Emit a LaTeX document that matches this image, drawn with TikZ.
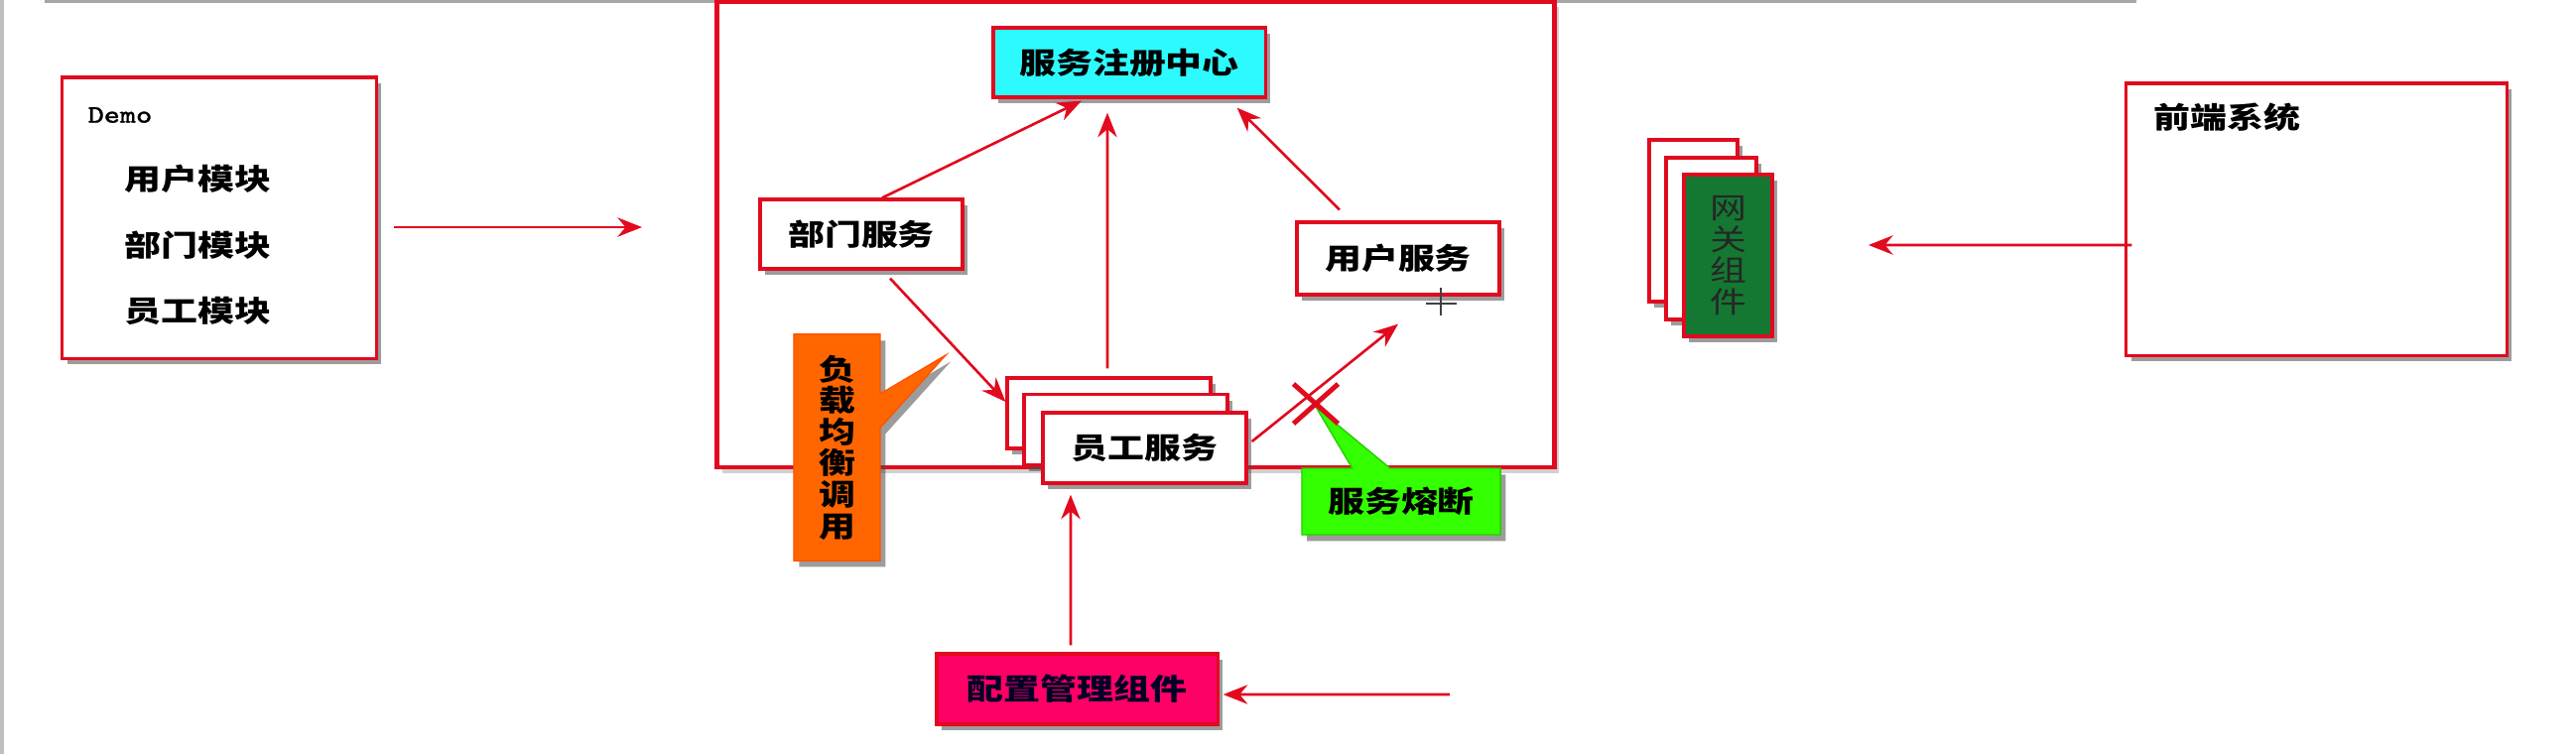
\documentclass[tikz,border=0pt]{standalone}
\usepackage{fontspec}
\usepackage{tikz}
\usetikzlibrary{arrows.meta,shadows,shapes.callouts,shapes.misc}
\newfontfamily\cjk[FakeStretch=1.25]{Noto Sans CJK SC}
\newfontfamily\demofont[FakeStretch=1.2,FakeBold=1.2]{Latin Modern Mono}
\newcommand\boxfont{\cjk\bfseries\fontsize{8.4pt}{9pt}\selectfont}
\definecolor{edgered}{RGB}{225,10,30}
\definecolor{regcyan}{RGB}{45,250,255}
\definecolor{lborange}{RGB}{255,102,0}
\definecolor{fusegreen}{RGB}{51,255,0}
\definecolor{cfgmagenta}{RGB}{255,0,102}
\definecolor{gwgreen}{RGB}{20,120,50}

\begin{document}
\begin{tikzpicture}[x=0.01cm,y=-0.01cm,
    shade/.style={drop shadow={shadow xshift=1.5pt,shadow yshift=-1.8pt,opacity=0.55,fill=black!70}},
    box/.style={draw=edgered,line width=0.9pt,fill=white,inner sep=0pt,font=\boxfont,shade},
    link/.style={draw=edgered,line width=0.75pt,-{Stealth[length=7pt,width=5.5pt]}}]
    \useasboundingbox (0,0) rectangle (2596,760);
    \fill[white] (0,0) rectangle (2596,760);
    % screen edges
    \fill[black!25] (0,0) rectangle (4,760);
    \draw[black!35,line width=1pt] (45,1) -- (2153,1);

    % Demo
    \node[box,minimum width=3.16cm,minimum height=2.83cm] (demo) at (221,219.5) {};
    \node[anchor=west,inner sep=0pt,font=\demofont\fontsize{7.2pt}{8pt}\selectfont] (demotitle) at (88,116) {Demo};
    \node[anchor=west,inner sep=0pt,font=\boxfont] (usermod) at (125,180) {用户模块};
    \node[anchor=west,inner sep=0pt,font=\boxfont] (deptmod) at (125,247) {部门模块};
    \node[anchor=west,inner sep=0pt,font=\boxfont] (empmod) at (125,313) {员工模块};
    \coordinate (demoout) at (397,229);
    \coordinate (framein) at (647,229);

    % Services
    \node[draw=edgered,line width=1.3pt,fill=white,inner sep=0pt,minimum width=8.43cm,minimum height=4.69cm,
      drop shadow={shadow xshift=1.4pt,shadow yshift=-1.6pt,opacity=0.3,fill=black!60}] (frame) at (1144.5,236.5) {};
    \node[box,fill=regcyan,minimum width=2.74cm,minimum height=0.70cm] (reg) at (1138,63) {服务注册中心};
    \node[box,minimum width=2.04cm,minimum height=0.70cm] (dept) at (868,236) {部门服务};
    \node[box,minimum width=2.04cm,minimum height=0.73cm] (user) at (1409,260.5) {用户服务};
    \node[box,minimum width=2.05cm,minimum height=0.71cm] (empback) at (1117.5,416.5) {};
    \node[box,minimum width=2.05cm,minimum height=0.71cm] (empmid) at (1134.5,433) {};
    \node[box,minimum width=2.05cm,minimum height=0.71cm] (emp) at (1153.5,451.5) {员工服务};
    \node[box,draw=lborange!80!red,line width=0.4pt,fill=lborange,rectangle callout,
      callout absolute pointer={(953,358)},callout pointer width=0.34cm,
      minimum width=0.87cm,minimum height=2.28cm,align=center] (lb) at (843.5,451)
      {负\\载\\均\\衡\\调\\用};
    \node[box,draw=fusegreen!80!black,line width=0.4pt,fill=fusegreen,rectangle callout,
      callout absolute pointer={(1326,410)},callout pointer width=0.38cm,
      minimum width=2.00cm,minimum height=0.67cm] (fuse) at (1412,505.5) {服务熔断};
    \node[cross out,draw=edgered,line width=1.4pt,minimum width=0.40cm,minimum height=0.35cm,inner sep=0pt] (cut) at (1326,407) {};
    \draw[black!75,line width=0.3pt] (1452,290) -- (1452,318) (1437,306) -- (1468,306);
    \node[box,fill=cfgmagenta,font=\boxfont\color{black!85!blue},minimum width=2.83cm,minimum height=0.71cm] (cfg) at (1085.5,694.5) {配置管理组件};
    \coordinate (cfgin) at (1461,700);

    % Gateway
    \node[box,minimum width=0.89cm,minimum height=1.63cm] (gwback) at (1706.5,222.5) {};
    \node[box,minimum width=0.91cm,minimum height=1.63cm] (gwmid) at (1724.5,240.5) {};
    \node[box,fill=gwgreen,font=\cjk\fontsize{8.4pt}{9pt}\selectfont\color{black!85},align=center,minimum width=0.89cm,minimum height=1.63cm] (gw) at (1741.5,257.5)
      {网\\关\\组\\件};
    \coordinate (gwin) at (1883,247);

    % Front end
    \node[box,minimum width=3.83cm,minimum height=2.74cm] (front) at (2334.5,221) {};
    \node[anchor=west,inner sep=0pt,font=\boxfont] (fronttitle) at (2170,118) {前端系统};

    % Arrows
    \draw[link] (demoout) -- (framein);
    \draw[link] ([xshift=0.21cm]dept.north) -- ([xshift=-0.48cm,yshift=-0.02cm]reg.south);
    \draw[link] ([xshift=-0.015cm,yshift=0.08cm]empback.north) -- ([xshift=-0.22cm,yshift=-0.14cm]reg.south);
    \draw[link] ([xshift=-0.59cm,yshift=0.11cm]user.north) -- ([xshift=-0.30cm,yshift=-0.09cm]reg.south east);
    \draw[link] ([xshift=0.29cm,yshift=-0.08cm]dept.south) -- ([yshift=0.115cm]empback.west);
    \draw[link] ([xshift=0.04cm,yshift=0.065cm]emp.east) -- ([yshift=-0.28cm]user.south);
    \draw[link] ([xshift=-0.065cm,yshift=0.07cm]cfg.north) -- ([xshift=-0.745cm,yshift=-0.10cm]emp.south);
    \draw[link] (cfgin) -- ([xshift=0.04cm,yshift=-0.055cm]cfg.east);
    \draw[link] ([xshift=0.07cm,yshift=-0.26cm]front.west) -- (gwin);
\end{tikzpicture}
\end{document}
